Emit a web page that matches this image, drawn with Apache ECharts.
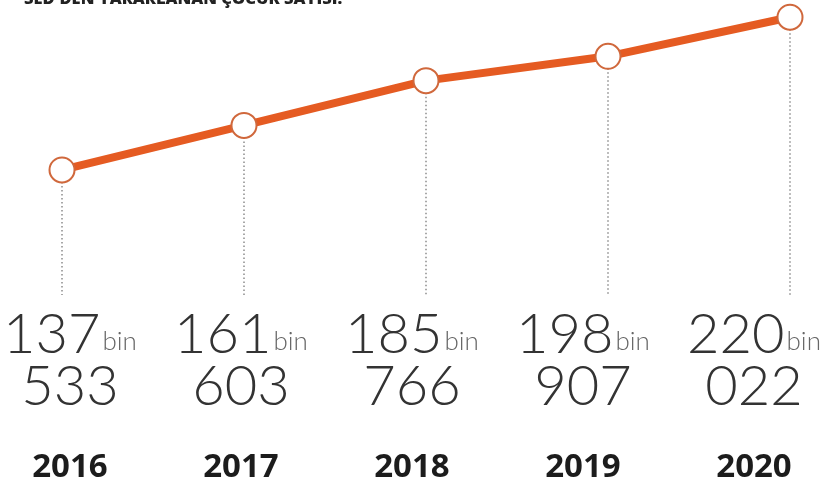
<!DOCTYPE html>
<html><head><meta charset="utf-8">
<script src="https://cdn.jsdelivr.net/npm/echarts@6/dist/echarts.min.js"></script>
<style>html,body{margin:0;padding:0;background:#fff}#c{width:827px;height:488px}</style>
</head><body><div id="c"></div>
<script>
const TITLE = "SED'DEN YARARLANAN ÇOCUK SAYISI:";
const categories = ['2016', '2017', '2018', '2019', '2020'];
const values = [137533, 161603, 185766, 198907, 220022];
const unitWord = 'bin';
const Y_MIN = 70000;
const Y_MAX = 225000;

function thousandsPart(v) { return String(Math.floor(v / 1000)); }
function restPart(v) { return String(v % 1000).padStart(3, '0'); }

const chart = echarts.init(document.getElementById('c'), null, {renderer: 'canvas'});
chart.setOption({
  animation: false,
  backgroundColor: '#ffffff',
  title: {
    text: TITLE, left: 24, top: -9.5, padding: 0,
    textStyle: {fontFamily: 'Open Sans', fontWeight: 800, fontSize: 16.5, color: '#222'}
  },
  grid: [
    {left: 62, right: 37, top: 8, bottom: 193},
    {left: 69, right: 73, top: 308, height: 1}
  ],
  xAxis: [
    {type: 'category', gridIndex: 0, data: categories, boundaryGap: false, show: false},
    {
      type: 'category', gridIndex: 1, data: categories, boundaryGap: false,
      axisLine: {show: false}, axisTick: {show: false},
      axisLabel: {
        interval: 0, margin: 0,
        formatter: function (val, i) {
          const v = values[i];
          return '{n|' + thousandsPart(v) + '}{b|' + unitWord + '}\n{n|' + restPart(v) + '}\n{y|' + val + '}';
        },
        rich: {
          n: {fontFamily: 'Lato', fontWeight: 300, fontSize: 56, lineHeight: 52, color: '#333'},
          b: {fontFamily: 'Lato', fontWeight: 300, fontSize: 26, lineHeight: 52, color: '#666', padding: [14, 0, 0, 2]},
          y: {fontFamily: 'Open Sans', fontWeight: 700, fontSize: 33, lineHeight: 110, color: '#1c1c1c'}
        }
      }
    }
  ],
  yAxis: [
    {type: 'value', gridIndex: 0, min: Y_MIN, max: Y_MAX, show: false},
    {type: 'value', gridIndex: 1, show: false}
  ],
  series: [
    {
      type: 'custom', xAxisIndex: 0, yAxisIndex: 0, z: 1,
      data: values.map((v, i) => [i, v]),
      renderItem: function (params, api) {
        const top = api.coord([api.value(0), api.value(1)]);
        const bottom = api.coord([api.value(0), Y_MIN]);
        return {
          type: 'line',
          shape: {x1: top[0], y1: top[1], x2: bottom[0], y2: bottom[1]},
          style: {stroke: '#8c8c8c', lineWidth: 1.5, lineDash: [1.5, 2.5]}
        };
      }
    },
    {
      type: 'line', xAxisIndex: 0, yAxisIndex: 0, z: 3,
      data: values,
      lineStyle: {color: '#E55B22', width: 8},
      symbol: 'circle', symbolSize: 25,
      itemStyle: {color: '#ffffff', borderColor: '#D0683C', borderWidth: 2},
      label: {show: false}
    }
  ]
});
</script></body></html>
